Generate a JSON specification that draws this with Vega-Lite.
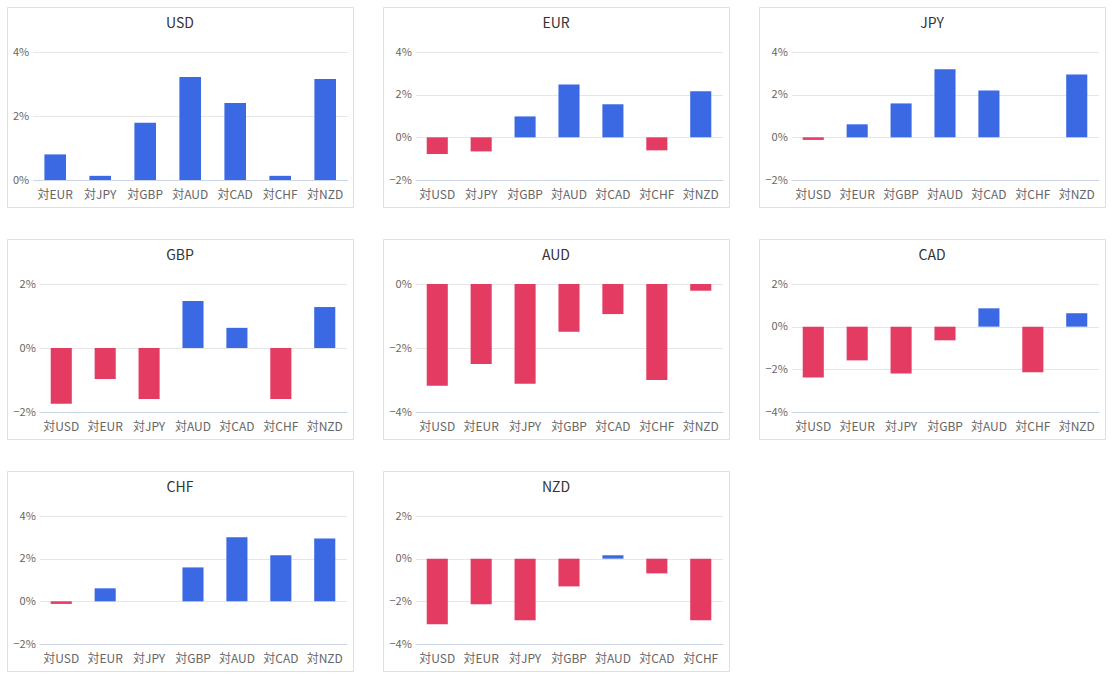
{
  "$schema": "https://vega.github.io/schema/vega-lite/v6.json",
  "background": "white",
  "padding": {"left": 6, "top": 6, "right": 0, "bottom": 0},
  "bounds": "flush",
  "columns": 3,
  "spacing": {"row": 32, "column": 30},
  "data": {"values": [
    {"base": "USD", "pair": "対EUR", "value": 0.80},
    {"base": "USD", "pair": "対JPY", "value": 0.13},
    {"base": "USD", "pair": "対GBP", "value": 1.79},
    {"base": "USD", "pair": "対AUD", "value": 3.22},
    {"base": "USD", "pair": "対CAD", "value": 2.41},
    {"base": "USD", "pair": "対CHF", "value": 0.13},
    {"base": "USD", "pair": "対NZD", "value": 3.16},
    {"base": "EUR", "pair": "対USD", "value": -0.78},
    {"base": "EUR", "pair": "対JPY", "value": -0.66},
    {"base": "EUR", "pair": "対GBP", "value": 0.98},
    {"base": "EUR", "pair": "対AUD", "value": 2.48},
    {"base": "EUR", "pair": "対CAD", "value": 1.55},
    {"base": "EUR", "pair": "対CHF", "value": -0.61},
    {"base": "EUR", "pair": "対NZD", "value": 2.16},
    {"base": "JPY", "pair": "対USD", "value": -0.12},
    {"base": "JPY", "pair": "対EUR", "value": 0.61},
    {"base": "JPY", "pair": "対GBP", "value": 1.59},
    {"base": "JPY", "pair": "対AUD", "value": 3.19},
    {"base": "JPY", "pair": "対CAD", "value": 2.20},
    {"base": "JPY", "pair": "対CHF", "value": 0},
    {"base": "JPY", "pair": "対NZD", "value": 2.95},
    {"base": "GBP", "pair": "対USD", "value": -1.74},
    {"base": "GBP", "pair": "対EUR", "value": -0.97},
    {"base": "GBP", "pair": "対JPY", "value": -1.59},
    {"base": "GBP", "pair": "対AUD", "value": 1.47},
    {"base": "GBP", "pair": "対CAD", "value": 0.63},
    {"base": "GBP", "pair": "対CHF", "value": -1.59},
    {"base": "GBP", "pair": "対NZD", "value": 1.28},
    {"base": "AUD", "pair": "対USD", "value": -3.18},
    {"base": "AUD", "pair": "対EUR", "value": -2.50},
    {"base": "AUD", "pair": "対JPY", "value": -3.12},
    {"base": "AUD", "pair": "対GBP", "value": -1.49},
    {"base": "AUD", "pair": "対CAD", "value": -0.94},
    {"base": "AUD", "pair": "対CHF", "value": -3.00},
    {"base": "AUD", "pair": "対NZD", "value": -0.21},
    {"base": "CAD", "pair": "対USD", "value": -2.38},
    {"base": "CAD", "pair": "対EUR", "value": -1.58},
    {"base": "CAD", "pair": "対JPY", "value": -2.19},
    {"base": "CAD", "pair": "対GBP", "value": -0.64},
    {"base": "CAD", "pair": "対AUD", "value": 0.86},
    {"base": "CAD", "pair": "対CHF", "value": -2.14},
    {"base": "CAD", "pair": "対NZD", "value": 0.63},
    {"base": "CHF", "pair": "対USD", "value": -0.12},
    {"base": "CHF", "pair": "対EUR", "value": 0.61},
    {"base": "CHF", "pair": "対JPY", "value": 0},
    {"base": "CHF", "pair": "対GBP", "value": 1.59},
    {"base": "CHF", "pair": "対AUD", "value": 3.00},
    {"base": "CHF", "pair": "対CAD", "value": 2.16},
    {"base": "CHF", "pair": "対NZD", "value": 2.95},
    {"base": "NZD", "pair": "対USD", "value": -3.08},
    {"base": "NZD", "pair": "対EUR", "value": -2.14},
    {"base": "NZD", "pair": "対JPY", "value": -2.89},
    {"base": "NZD", "pair": "対GBP", "value": -1.30},
    {"base": "NZD", "pair": "対AUD", "value": 0.16},
    {"base": "NZD", "pair": "対CAD", "value": -0.69},
    {"base": "NZD", "pair": "対CHF", "value": -2.89}
  ]},
  "concat": [
    {
      "title": "USD", "width": 346, "height": 200,
      "transform": [{"filter": "datum.base === 'USD'"}],
      "mark": {"type": "bar"},
      "encoding": {
        "x": {"field": "pair", "type": "nominal", "sort": null, "scale": {"range": [25.7, 340.7], "paddingInner": 0.52, "paddingOuter": 0.26}, "axis": {"title": null}},
        "y": {"field": "value", "type": "quantitative", "scale": {"domain": [0, 4], "range": [173, 45], "nice": false, "zero": false}, "axis": {"title": null, "values": [0, 2, 4], "offset": -25.7}},
        "color": {"condition": {"test": "datum.value < 0", "value": "#e33b61"}, "value": "#3b69e3"}
      }
    },
    {
      "title": "EUR", "width": 346, "height": 200,
      "transform": [{"filter": "datum.base === 'EUR'"}],
      "mark": {"type": "bar"},
      "encoding": {
        "x": {"field": "pair", "type": "nominal", "sort": null, "scale": {"range": [32.3, 339.7], "paddingInner": 0.52, "paddingOuter": 0.26}, "axis": {"title": null}},
        "y": {"field": "value", "type": "quantitative", "scale": {"domain": [-2, 4], "range": [173, 45], "nice": false, "zero": false}, "axis": {"title": null, "values": [-2, 0, 2, 4], "offset": -32.3}},
        "color": {"condition": {"test": "datum.value < 0", "value": "#e33b61"}, "value": "#3b69e3"}
      }
    },
    {
      "title": "JPY", "width": 346, "height": 200,
      "transform": [{"filter": "datum.base === 'JPY'"}],
      "mark": {"type": "bar"},
      "encoding": {
        "x": {"field": "pair", "type": "nominal", "sort": null, "scale": {"range": [32.3, 339.7], "paddingInner": 0.52, "paddingOuter": 0.26}, "axis": {"title": null}},
        "y": {"field": "value", "type": "quantitative", "scale": {"domain": [-2, 4], "range": [173, 45], "nice": false, "zero": false}, "axis": {"title": null, "values": [-2, 0, 2, 4], "offset": -32.3}},
        "color": {"condition": {"test": "datum.value < 0", "value": "#e33b61"}, "value": "#3b69e3"}
      }
    },
    {
      "title": "GBP", "width": 346, "height": 200,
      "transform": [{"filter": "datum.base === 'GBP'"}],
      "mark": {"type": "bar"},
      "encoding": {
        "x": {"field": "pair", "type": "nominal", "sort": null, "scale": {"range": [32.3, 339.7], "paddingInner": 0.52, "paddingOuter": 0.26}, "axis": {"title": null}},
        "y": {"field": "value", "type": "quantitative", "scale": {"domain": [-2, 2], "range": [173, 45], "nice": false, "zero": false}, "axis": {"title": null, "values": [-2, 0, 2], "offset": -32.3}},
        "color": {"condition": {"test": "datum.value < 0", "value": "#e33b61"}, "value": "#3b69e3"}
      }
    },
    {
      "title": "AUD", "width": 346, "height": 200,
      "transform": [{"filter": "datum.base === 'AUD'"}],
      "mark": {"type": "bar"},
      "encoding": {
        "x": {"field": "pair", "type": "nominal", "sort": null, "scale": {"range": [32.3, 339.7], "paddingInner": 0.52, "paddingOuter": 0.26}, "axis": {"title": null}},
        "y": {"field": "value", "type": "quantitative", "scale": {"domain": [-4, 0], "range": [173, 45], "nice": false, "zero": false}, "axis": {"title": null, "values": [-4, -2, 0], "offset": -32.3}},
        "color": {"condition": {"test": "datum.value < 0", "value": "#e33b61"}, "value": "#3b69e3"}
      }
    },
    {
      "title": "CAD", "width": 346, "height": 200,
      "transform": [{"filter": "datum.base === 'CAD'"}],
      "mark": {"type": "bar"},
      "encoding": {
        "x": {"field": "pair", "type": "nominal", "sort": null, "scale": {"range": [32.3, 339.7], "paddingInner": 0.52, "paddingOuter": 0.26}, "axis": {"title": null}},
        "y": {"field": "value", "type": "quantitative", "scale": {"domain": [-4, 2], "range": [173, 45], "nice": false, "zero": false}, "axis": {"title": null, "values": [-4, -2, 0, 2], "offset": -32.3}},
        "color": {"condition": {"test": "datum.value < 0", "value": "#e33b61"}, "value": "#3b69e3"}
      }
    },
    {
      "title": "CHF", "width": 346, "height": 200,
      "transform": [{"filter": "datum.base === 'CHF'"}],
      "mark": {"type": "bar"},
      "encoding": {
        "x": {"field": "pair", "type": "nominal", "sort": null, "scale": {"range": [32.3, 339.7], "paddingInner": 0.52, "paddingOuter": 0.26}, "axis": {"title": null}},
        "y": {"field": "value", "type": "quantitative", "scale": {"domain": [-2, 4], "range": [173, 45], "nice": false, "zero": false}, "axis": {"title": null, "values": [-2, 0, 2, 4], "offset": -32.3}},
        "color": {"condition": {"test": "datum.value < 0", "value": "#e33b61"}, "value": "#3b69e3"}
      }
    },
    {
      "title": "NZD", "width": 346, "height": 200,
      "transform": [{"filter": "datum.base === 'NZD'"}],
      "mark": {"type": "bar"},
      "encoding": {
        "x": {"field": "pair", "type": "nominal", "sort": null, "scale": {"range": [32.3, 339.7], "paddingInner": 0.52, "paddingOuter": 0.26}, "axis": {"title": null}},
        "y": {"field": "value", "type": "quantitative", "scale": {"domain": [-4, 2], "range": [173, 45], "nice": false, "zero": false}, "axis": {"title": null, "values": [-4, -2, 0, 2], "offset": -32.3}},
        "color": {"condition": {"test": "datum.value < 0", "value": "#e33b61"}, "value": "#3b69e3"}
      }
    }
  ],
  "config": {
    "font": "Noto Sans CJK JP",
    "view": {"stroke": "#d6e3e3", "strokeWidth": 1, "fill": "white"},
    "title": {"fontSize": 14, "fontWeight": "normal", "color": "#333333", "offset": -24, "anchor": "middle", "frame": "group"},
    "axisX": {"offset": -27, "labelAngle": 0, "ticks": false, "tickSize": 0, "labelPadding": 9, "labelFontSize": 12, "labelColor": "#666666", "domainColor": "#ccd6eb", "domainWidth": 1, "grid": false},
    "axisY": {"domain": false, "ticks": false, "tickSize": 0, "labelPadding": 4, "labelFontSize": 11, "labelColor": "#666666", "gridColor": "#e6e6e6", "grid": true, "labelExpr": "format(datum.value, 'd') + '%'"}
  }
}
